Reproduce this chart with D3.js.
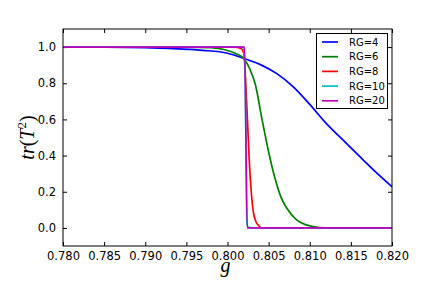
<!DOCTYPE html>
<html>
<head>
<meta charset="utf-8">
<script src="https://cdn.jsdelivr.net/npm/d3@7"></script>
<style>
  body { margin: 0; background: #fff; overflow: hidden; }
  svg { display: block; }
  .axis text { font-family: "DejaVu Sans", sans-serif; font-size: 11.5px; fill: #000; }
  .legend text { font-family: "DejaVu Sans", sans-serif; font-size: 10px; }
</style>
</head>
<body>
<div id="chart"></div>
<script>
// values
const seriesNames = ["RG=4", "RG=6", "RG=8", "RG=10", "RG=20"]
const seriesColors = ["#0000ff", "#008000", "#ff0000", "#00bfbf", "#bf00bf"]

const rg4 = [
  [0.780, 1.0], [0.785, 0.999], [0.790, 0.997], [0.794, 0.99], [0.797, 0.982],
  [0.800, 0.966], [0.802, 0.937], [0.804, 0.903], [0.806, 0.853], [0.808, 0.78],
  [0.810, 0.683], [0.812, 0.578], [0.814, 0.488], [0.816, 0.398], [0.818, 0.31],
  [0.820, 0.228],
]
const rg6 = [
  [0.780, 1.0], [0.795, 1.0], [0.798, 0.997], [0.7997, 0.985], [0.801, 0.965],
  [0.802, 0.935], [0.8027, 0.88], [0.8034, 0.79], [0.8042, 0.60], [0.8050, 0.42],
  [0.8058, 0.27], [0.8065, 0.17], [0.8072, 0.11], [0.8084, 0.044], [0.8095, 0.018],
  [0.8104, 0.007], [0.812, 0.0], [0.820, 0.0],
]
const rg8 = [
  [0.780, 1.0], [0.801, 1.0], [0.8017, 0.99], [0.8020, 0.96], [0.8023, 0.72],
  [0.8027, 0.33], [0.8031, 0.10], [0.8035, 0.03], [0.8038, 0.012], [0.8042, 0.0],
  [0.820, 0.0],
]
const rg10 = [
  [0.780, 1.0], [0.8018, 1.0], [0.8020, 0.98], [0.80215, 0.85], [0.8023, 0.2],
  [0.80235, 0.03], [0.8025, 0.005], [0.8030, 0.0], [0.820, 0.0],
]
const rg20 = [
  [0.780, 1.0], [0.80208, 1.0], [0.80240, 0.0], [0.820, 0.0],
]
const seriesValues = [rg4, rg6, rg8, rg10, rg20]

const xTicks = [0.780, 0.785, 0.790, 0.795, 0.800, 0.805, 0.810, 0.815, 0.820]
const yTicks = [0.0, 0.2, 0.4, 0.6, 0.8, 1.0]

const width = 436
const height = 289
const margin = { top: 29, right: 44, bottom: 43, left: 63 }
const innerWidth = width - margin.left - margin.right
const innerHeight = height - margin.top - margin.bottom

const svg = d3
  .select("#chart")
  .append("svg")
  .attr("width", width)
  .attr("height", height)

const group = svg
  .append("g")
  .attr("transform", "translate(" + margin.left + "," + margin.top + ")")

let x = d3.scaleLinear().domain([0.78, 0.82]).range([0, innerWidth])
let y = d3.scaleLinear().domain([-0.1, 1.1]).range([innerHeight, 0])

// axes, ticks pointing inward like old matplotlib
group
  .append("g")
  .attr("class", "x axis")
  .attr("transform", "translate(0," + innerHeight + ")")
  .call(d3.axisBottom(x).tickValues(xTicks).tickFormat(d3.format(".3f")).tickSizeInner(-4).tickSizeOuter(0).tickPadding(6))
  .call(g => g.select(".domain").remove())

group
  .append("g")
  .attr("class", "x axis")
  .call(d3.axisTop(x).tickValues(xTicks).tickFormat("").tickSizeInner(-4).tickSizeOuter(0))
  .call(g => g.select(".domain").remove())

group
  .append("g")
  .attr("class", "y axis")
  .call(d3.axisLeft(y).tickValues(yTicks).tickFormat(d3.format(".1f")).tickSizeInner(-4).tickSizeOuter(0).tickPadding(7))
  .call(g => g.select(".domain").remove())

group
  .append("g")
  .attr("class", "y axis")
  .attr("transform", "translate(" + innerWidth + ",0)")
  .call(d3.axisRight(y).tickValues(yTicks).tickFormat("").tickSizeInner(-4).tickSizeOuter(0))
  .call(g => g.select(".domain").remove())

group.selectAll(".tick line").attr("stroke", "#000")

// data lines
let line = d3
  .line()
  .x(d => x(d[0]))
  .y(d => y(d[1]))
  .curve(d3.curveMonotoneX)

group
  .append("g")
  .attr("class", "lines")
  .selectAll("path")
  .data(seriesValues)
  .join("path")
  .attr("d", line)
  .attr("fill", "none")
  .attr("stroke", (d, i) => seriesColors[i])
  .attr("stroke-width", 1.7)

// frame
group
  .append("rect")
  .attr("width", innerWidth)
  .attr("height", innerHeight)
  .attr("fill", "none")
  .attr("stroke", "#000")
  .attr("stroke-width", 1)

// legend
let legend = svg.append("g").attr("class", "legend")
legend
  .append("rect")
  .attr("x", 316.5)
  .attr("y", 33.5)
  .attr("width", 71)
  .attr("height", 75)
  .attr("fill", "#fff")
  .attr("stroke", "#000")

let items = legend
  .selectAll("g")
  .data(seriesNames)
  .join("g")
  .attr("transform", (d, i) => `translate(0,${42 + i * 14.7})`)

items
  .append("line")
  .attr("x1", 322)
  .attr("x2", 338)
  .attr("stroke", (d, i) => seriesColors[i])
  .attr("stroke-width", 1.7)

items
  .append("text")
  .attr("x", 349)
  .attr("dy", "0.36em")
  .text(d => d)

// axis titles
svg
  .append("text")
  .attr("x", margin.left + innerWidth / 2 - 2)
  .attr("y", 272)
  .attr("text-anchor", "middle")
  .style("font-family", "Liberation Serif, serif")
  .style("font-style", "italic")
  .style("font-size", "20px")
  .text("g")

let yTitle = svg
  .append("text")
  .attr("transform", `translate(34,${margin.top + innerHeight / 2}) rotate(-90)`)
  .attr("text-anchor", "middle")
  .style("font-family", "Liberation Serif, serif")
  .style("font-size", "20px")
yTitle.append("tspan").style("font-style", "italic").text("tr")
yTitle.append("tspan").text("(")
yTitle.append("tspan").style("font-style", "italic").text("T")
yTitle.append("tspan").attr("dy", -8).style("font-size", "13px").text("2")
yTitle.append("tspan").attr("dy", 8).text(")")
</script>
</body>
</html>
